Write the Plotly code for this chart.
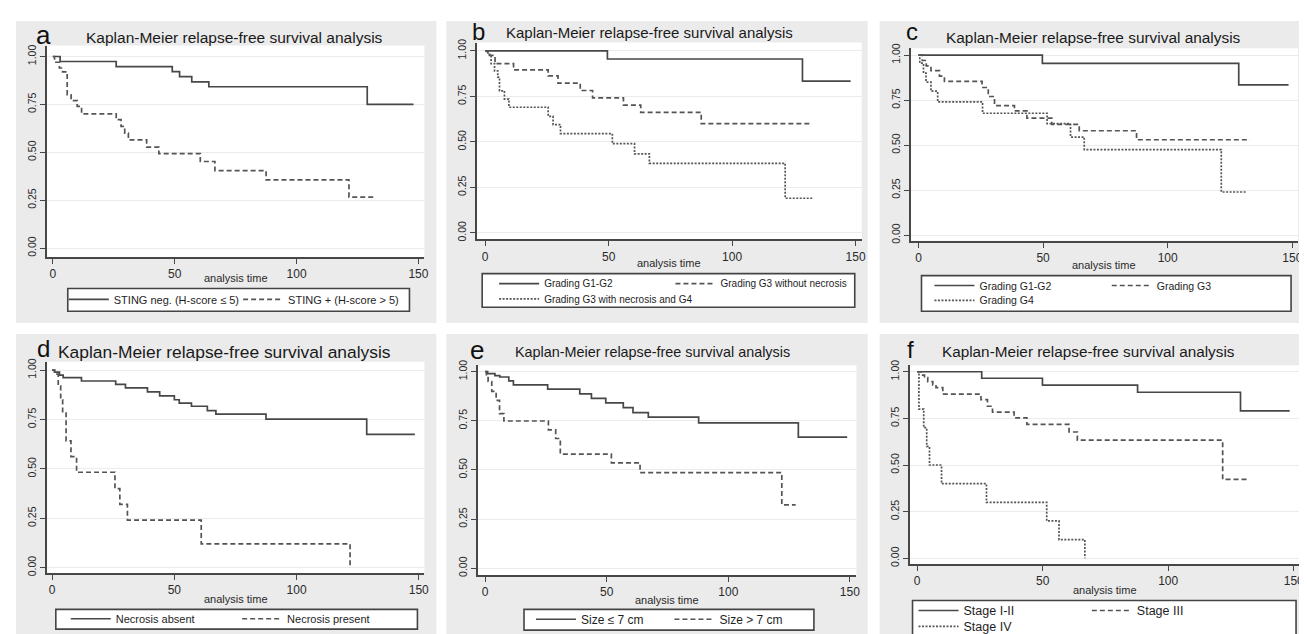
import plotly.graph_objects as go

# ---------------- data ----------------
# Panel a: STING
a_neg_t = [0, 3, 26, 49, 52, 57, 64, 129, 148]
a_neg_s = [1, 0.974, 0.947, 0.921, 0.895, 0.868, 0.842, 0.75, 0.75]
a_pos_t = [0, 0.7, 2.7, 4, 5.9, 7.5, 10, 11.8, 26, 28, 29.5, 31, 38.5, 43.5, 60.5, 66.5, 87.5, 121.5, 132]
a_pos_s = [1, 0.97, 0.94, 0.92, 0.80, 0.77, 0.74, 0.70, 0.67, 0.635, 0.60, 0.565, 0.527, 0.493, 0.452, 0.404, 0.356, 0.266, 0.266]

# Panel b: grading (3 groups)
b_g12_t = [0, 49.5, 128.5, 148]
b_g12_s = [1, 0.955, 0.834, 0.834]
b_g3_t = [0, 1, 4, 11.5, 25.5, 29.5, 38.5, 43.5, 56, 63, 87.5, 132]
b_g3_s = [1, 0.975, 0.93, 0.895, 0.862, 0.822, 0.782, 0.742, 0.702, 0.662, 0.60, 0.60]
b_g34_t = [0, 1.1, 2.4, 3.8, 5.1, 5.8, 7.8, 9.6, 25.5, 27.5, 30.5, 51.5, 60.5, 66.5, 121.5, 132.5]
b_g34_s = [1, 0.98, 0.93, 0.89, 0.855, 0.78, 0.735, 0.69, 0.64, 0.595, 0.545, 0.49, 0.434, 0.382, 0.19, 0.19]

# Panel c: grading G1-G2 / G3 / G4
c_g12_t = [0, 49.7, 128.5, 148.5]
c_g12_s = [1, 0.954, 0.835, 0.835]
c_g3_t = [0, 1.5, 3.1, 5, 8.4, 10.4, 25.5, 28, 30.5, 38.5, 43.5, 53.5, 64.5, 87.5, 133]
c_g3_s = [1, 0.97, 0.94, 0.914, 0.883, 0.854, 0.82, 0.77, 0.72, 0.69, 0.65, 0.615, 0.58, 0.53, 0.53]
c_g4_t = [0, 0.5, 2, 3, 5, 7.7, 25.7, 51.6, 61, 66.5, 121.5, 131.5]
c_g4_s = [1, 0.955, 0.90, 0.85, 0.80, 0.74, 0.677, 0.62, 0.545, 0.475, 0.24, 0.24]

# Panel d: necrosis
d_abs_t = [0, 1, 3, 4.5, 12, 26, 30, 39, 44, 50, 52, 57, 63.5, 67, 87.5, 128.7, 148.4]
d_abs_s = [1, 0.99, 0.975, 0.962, 0.945, 0.928, 0.91, 0.89, 0.87, 0.85, 0.833, 0.817, 0.795, 0.777, 0.752, 0.675, 0.675]
d_nec_t = [0, 1, 2.5, 3.5, 4.3, 5.7, 7.7, 10, 25.7, 27.7, 30.8, 61, 121.9]
d_nec_s = [1, 0.98, 0.92, 0.85, 0.783, 0.642, 0.562, 0.483, 0.40, 0.32, 0.24, 0.12, 0.0]

# Panel e: tumour size
e_small_t = [0, 1, 4, 6, 9.7, 11.6, 25.7, 38.9, 43.7, 49.6, 56.8, 60.8, 67.1, 87.8, 128.8, 148.9]
e_small_s = [1, 0.99, 0.98, 0.973, 0.953, 0.933, 0.911, 0.887, 0.864, 0.841, 0.817, 0.792, 0.769, 0.74, 0.667, 0.667]
e_large_t = [0, 0.5, 1.2, 2.7, 4.5, 5.9, 7.7, 26, 29, 30.9, 51.9, 63.7, 122, 127.7]
e_large_s = [1, 0.98, 0.95, 0.90, 0.854, 0.787, 0.749, 0.704, 0.66, 0.581, 0.536, 0.486, 0.322, 0.322]

# Panel f: stage
f_s12_t = [0, 25.7, 49.9, 87.8, 128.8, 148.4]
f_s12_s = [1, 0.965, 0.928, 0.89, 0.79, 0.79]
f_s3_t = [0, 1.6, 2.9, 4.2, 6.2, 7.5, 10.2, 25.4, 28, 30, 38.6, 43.7, 60.5, 63.8, 121.7, 131.9]
f_s3_s = [1, 0.982, 0.968, 0.947, 0.93, 0.915, 0.88, 0.85, 0.815, 0.783, 0.753, 0.718, 0.677, 0.633, 0.423, 0.423]
f_s4_t = [0, 0.7, 2.6, 3.8, 4.9, 9.7, 27.6, 51.6, 56.5, 66.8]
f_s4_s = [1, 0.8, 0.7, 0.6, 0.5, 0.4, 0.3, 0.2, 0.1, 0.0]

panel_letters = ["a", "b", "c", "d", "e", "f"]
title_text = "Kaplan-Meier relapse-free survival analysis"
x_ticks = [0, 50, 100, 150]
y_ticks = [0, 0.25, 0.5, 0.75, 1.0]
y_ticktext = ["0.00", "0.25", "0.50", "0.75", "1.00"]
x_label = "analysis time"

# ---------------- layout geometry (pixels) ----------------
W, H = 1307, 634
FONT = "Liberation Sans, Arial, sans-serif"
LINE = "#474747"
GRAY_BG = "#ebebeb"


def px(x):
    return x / W


def py(y):
    return 1 - y / H


# each panel: grey box, plot box, axis ranges, title, letter, legend box,
# label positions
panels = [
    dict(bg=(8, 8, 430, 314), plot=(39, 33, 418, 247), xr=[-2.45, 152.45], yr=[-0.046, 1.057],
         title=(227.5, 25, 15.5), letter=(36, 22, 26), xlab=268, lbox=(60, 279, 403, 302), lfont=11),
    dict(bg=(440, 8, 863, 314), plot=(471, 30, 857, 229.3), xr=[-3.23, 152.5], yr=[-0.036, 1.045],
         title=(644, 20, 15), letter=(472.5, 19, 24), xlab=253, lbox=(476, 264, 850, 298), lfont=10),
    dict(bg=(875, 8, 1300, 314), plot=(906, 35.7, 1295, 230.7), xr=[-3.2, 152.3], yr=[-0.031, 1.038],
         title=(1089.5, 25, 15.4), letter=(907.5, 19, 24), xlab=255, lbox=(917, 266, 1288, 302), lfont=10.5),
    dict(bg=(8, 325, 430, 634), plot=(39.3, 353.3, 418, 567.3), xr=[-2.04, 152.3], yr=[-0.028, 1.042],
         title=(217.5, 343, 17.4), letter=(36, 340, 24), xlab=593, lbox=(48, 604, 411, 624), lfont=11),
    dict(bg=(440, 325, 863, 634), plot=(471.7, 356.7, 851.7, 569.3), xr=[-3.0, 152.7], yr=[-0.035, 1.033],
         title=(646.7, 343, 14.4), letter=(470.5, 341, 26), xlab=594, lbox=(518, 604, 809, 625), lfont=12),
    dict(bg=(875, 325, 1300, 634), plot=(905, 356.7, 1296.7, 558.3), xr=[-3.05, 152.4], yr=[-0.032, 1.035],
         title=(1085, 343, 15.3), letter=(906, 341, 24), xlab=584, lbox=(908, 595, 1293, 632), lfont=12.5),
]

# series: (panel index, times, survival, name, dash, legend entry (sample start x, centre y))
series = [
    (0, a_neg_t, a_neg_s, "STING neg. (H-score ≤ 5)", "solid", (61, 290)),
    (0, a_pos_t, a_pos_s, "STING + (H-score > 5)", "5px,3px", (236, 290)),
    (1, b_g12_t, b_g12_s, "Grading G1-G2", "solid", (493, 274)),
    (1, b_g3_t, b_g3_s, "Grading G3 without necrosis", "5px,3px", (670, 274)),
    (1, b_g34_t, b_g34_s, "Grading G3 with necrosis and G4", "2px,1.5px", (493, 289.5)),
    (2, c_g12_t, c_g12_s, "Grading G1-G2", "solid", (930, 276)),
    (2, c_g3_t, c_g3_s, "Grading G3", "5px,3px", (1108, 276)),
    (2, c_g4_t, c_g4_s, "Grading G4", "2px,1.5px", (930, 291)),
    (3, d_abs_t, d_abs_s, "Necrosis absent", "solid", (63, 613.5)),
    (3, d_nec_t, d_nec_s, "Necrosis present", "5px,3px", (235, 613.5)),
    (4, e_small_t, e_small_s, "Size ≤ 7 cm", "solid", (530, 614)),
    (4, e_large_t, e_large_s, "Size > 7 cm", "5px,3px", (669, 614)),
    (5, f_s12_t, f_s12_s, "Stage I-II", "solid", (914, 605.5)),
    (5, f_s3_t, f_s3_s, "Stage III", "5px,3px", (1088, 605.5)),
    (5, f_s4_t, f_s4_s, "Stage IV", "2px,1.5px", (914, 621.5)),
]

fig = go.Figure()
layout = dict(
    width=W, height=H, autosize=False,
    margin=dict(l=0, r=0, t=0, b=0),
    paper_bgcolor="white", plot_bgcolor="rgba(0,0,0,0)",
    font=dict(family=FONT, color="#2a2a2a"),
    showlegend=True,
)
shapes = []
annotations = []

# grey panel backgrounds
for p in panels:
    x0, y0, x1, y1 = p["bg"]
    shapes.append(dict(type="rect", xref="paper", yref="paper", x0=px(x0), x1=px(x1),
                       y0=py(y1), y1=py(y0), fillcolor=GRAY_BG, line=dict(width=0), layer="below"))

for i, p in enumerate(panels):
    k = "" if i == 0 else str(i + 1)
    x0, y0, x1, y1 = p["plot"]
    layout["xaxis" + k] = dict(
        domain=[px(x0), px(x1)], range=p["xr"], anchor="y" + k,
        tickvals=x_ticks, ticks="outside", ticklen=5, tickwidth=1.3, tickcolor=LINE,
        showline=True, linecolor=LINE, linewidth=1.6, showgrid=False, zeroline=False,
        tickfont=dict(size=12, color="#2a2a2a", family=FONT), fixedrange=True,
    )
    layout["yaxis" + k] = dict(
        domain=[py(y1), py(y0)], range=p["yr"], anchor="x" + k,
        tickvals=y_ticks, ticktext=y_ticktext, tickangle=-90,
        ticks="outside", ticklen=5, tickwidth=1.3, tickcolor=LINE,
        showline=True, linecolor=LINE, linewidth=1.6,
        showgrid=True, gridcolor="#ebebeb", gridwidth=1, zeroline=False,
        tickfont=dict(size=10.5, color="#2a2a2a", family=FONT), fixedrange=True,
    )
    # white plot region
    shapes.append(dict(type="rect", xref="x" + k + " domain", yref="y" + k + " domain",
                       x0=0, x1=1, y0=0, y1=1, fillcolor="white", line=dict(width=0), layer="below"))
    # legend box
    lx0, ly0, lx1, ly1 = p["lbox"]
    shapes.append(dict(type="rect", xref="paper", yref="paper", x0=px(lx0), x1=px(lx1),
                       y0=py(ly1), y1=py(ly0), fillcolor="white",
                       line=dict(width=1.6, color="#444444"), layer="below"))
    # title, letter, x label
    tx, ty, ts = p["title"]
    annotations.append(dict(text=title_text, x=px(tx), y=py(ty), xref="paper", yref="paper",
                            xanchor="center", yanchor="middle", showarrow=False,
                            font=dict(size=ts, color="#1a1a1a", family=FONT)))
    lx, ly, ls = p["letter"]
    annotations.append(dict(text=panel_letters[i], x=px(lx), y=py(ly), xref="paper", yref="paper",
                            xanchor="center", yanchor="middle", showarrow=False,
                            font=dict(size=ls, color="#111111", family=FONT)))
    annotations.append(dict(text=x_label, x=px((x0 + x1) / 2), y=py(p["xlab"]), xref="paper", yref="paper",
                            xanchor="center", yanchor="middle", showarrow=False,
                            font=dict(size=11, color="#2a2a2a", family=FONT)))

for j, (pi, t, s, name, dash, (sx, sy)) in enumerate(series):
    k = "" if pi == 0 else str(pi + 1)
    lg = "legend" if j == 0 else "legend" + str(j + 1)
    fig.add_trace(go.Scatter(
        x=t, y=s, mode="lines", name=name, legend=lg,
        line=dict(shape="hv", color=LINE if dash == "solid" else "#545454", width=1.7, dash=dash),
        xaxis="x" + k, yaxis="y" + k, hoverinfo="skip",
    ))
    layout[lg] = dict(
        x=px(sx - 5), y=py(sy), xanchor="left", yanchor="middle",
        bgcolor="rgba(0,0,0,0)", borderwidth=0, itemwidth=40,
        font=dict(size=panels[pi]["lfont"], color="#1e1e1e", family=FONT),
        orientation="h",
    )

layout["shapes"] = shapes
layout["annotations"] = annotations
fig.update_layout(**layout)
fig.write_html("out.html")
